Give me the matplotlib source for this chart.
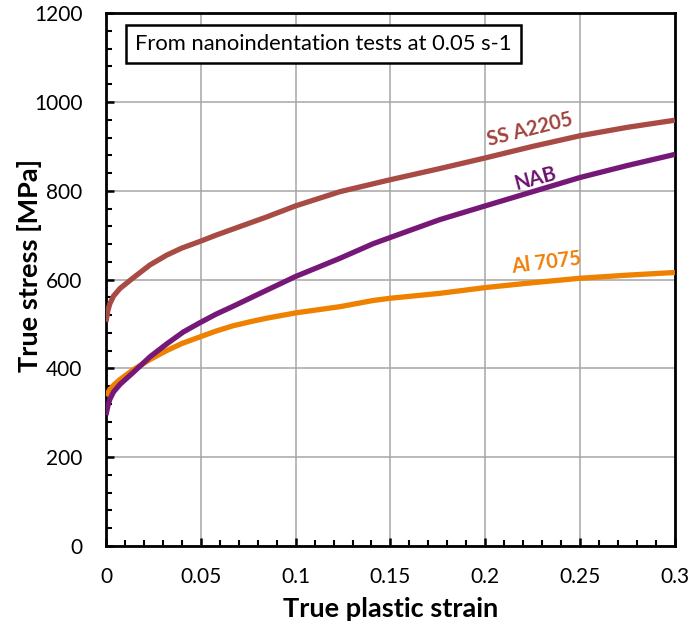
import matplotlib
matplotlib.use("Agg")
import matplotlib.pyplot as plt
from matplotlib.ticker import MultipleLocator

plt.rcParams['font.family'] = ['Lato', 'DejaVu Sans']

# True stress-strain curves from nanoindentation (0.05 s-1)
ss_strain = [0, 0.001, 0.002, 0.004, 0.0074, 0.0144, 0.0232, 0.032, 0.04, 0.0496,
             0.058, 0.0671, 0.0847, 0.1, 0.1234, 0.15, 0.176, 0.2, 0.225, 0.25,
             0.275, 0.3]
ss_stress = [505, 530, 545, 563, 580, 604, 633, 655, 671, 686,
             700, 714, 741, 766, 798, 825, 850, 874, 900, 924,
             943, 959]

nab_strain = [0, 0.001, 0.002, 0.004, 0.0074, 0.0144, 0.0232, 0.032, 0.0408,
              0.0496, 0.058, 0.0671, 0.0847, 0.1, 0.1234, 0.141, 0.15, 0.176,
              0.2, 0.225, 0.25, 0.275, 0.3]
nab_stress = [295, 315, 330, 347, 364, 391, 426, 455, 482,
              503, 522, 540, 576, 607, 648, 681, 695, 735,
              766, 798, 830, 857, 882]

al_strain = [0, 0.002, 0.004, 0.0074, 0.0144, 0.0232, 0.032, 0.04, 0.0496,
             0.058, 0.0671, 0.076, 0.0847, 0.1, 0.1234, 0.141, 0.15, 0.176,
             0.2, 0.225, 0.25, 0.275, 0.3]
al_stress = [338, 352, 362, 375, 397, 420, 440, 456, 471,
             484, 496, 505, 513, 525, 539, 553, 558, 569,
             582, 593, 603, 610, 616]

x_ticks = [0, 0.05, 0.1, 0.15, 0.2, 0.25, 0.3]
x_tick_labels = ['0', '0.05', '0.1', '0.15', '0.2', '0.25', '0.3']
y_ticks = [0, 200, 400, 600, 800, 1000, 1200]

c_ss = '#A84B45'
c_nab = '#761878'
c_al = '#EF8100'

fig = plt.figure(figsize=(6.88, 6.28), dpi=100)
ax = fig.add_axes([0.154, 0.1306, 0.827, 0.8484])

ax.plot(ss_strain, ss_stress, color=c_ss, lw=3.8, solid_capstyle='butt', zorder=3)
ax.plot(al_strain, al_stress, color=c_al, lw=3.8, solid_capstyle='butt', zorder=3)
ax.plot(nab_strain, nab_stress, color=c_nab, lw=3.8, solid_capstyle='butt', zorder=4)

ax.set_xlim(0, 0.3)
ax.set_ylim(0, 1200)
ax.set_xticks(x_ticks)
ax.set_xticklabels(x_tick_labels)
ax.set_yticks(y_ticks)
ax.xaxis.set_minor_locator(MultipleLocator(0.01))
ax.yaxis.set_minor_locator(MultipleLocator(40))

ax.grid(True, which='major', color='#A6A6A6', lw=1.1, zorder=1)
ax.set_axisbelow(True)
for sp in ax.spines.values():
    sp.set_linewidth(2.0)
    sp.set_color('black')

ax.tick_params(which='major', direction='in', length=6, width=1.8,
               labelsize=15, top=False, right=False)
ax.tick_params(which='minor', direction='in', length=4.5, width=1.5,
               top=False, right=False)
ax.tick_params(axis='y', which='major', pad=17)
ax.tick_params(axis='x', which='major', pad=15)

ax.set_xlabel('True plastic strain', fontsize=19.5, fontweight='bold', labelpad=7)
ax.set_ylabel('True stress [MPa]', fontsize=19.5, fontweight='bold')
ax.yaxis.set_label_coords(-0.134, 0.527)
ax.yaxis.label.set_verticalalignment('center')

ax.text(0.2235, 937, 'SS A2205', color='#A0433D', fontsize=14.5, fontweight='bold',
        rotation=14, ha='center', va='center', zorder=5)
ax.text(0.2267, 828, 'NAB', color='#6C136E', fontsize=14.5, fontweight='bold',
        rotation=15, ha='center', va='center', zorder=5)
ax.text(0.232, 639, 'Al 7075', color='#F07F09', fontsize=14.5, fontweight='bold',
        rotation=7, ha='center', va='center', zorder=5)

ax.text(0.0155, 1131, 'From nanoindentation tests at 0.05 s-1', fontsize=15.8,
        ha='left', va='center', zorder=6,
        bbox=dict(boxstyle='square,pad=0.42', facecolor='white',
                  edgecolor='black', linewidth=1.8))

fig.savefig('out.png', dpi=100)
